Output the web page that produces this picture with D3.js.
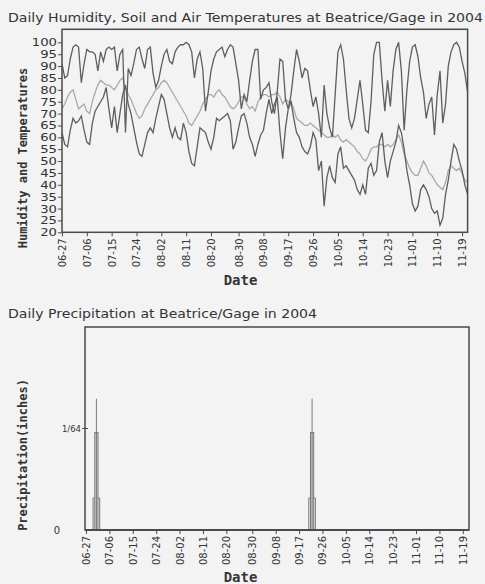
<!DOCTYPE html>
<html><head><meta charset="utf-8">
<script src="https://cdn.jsdelivr.net/npm/d3@7"></script>
<style>
html,body{margin:0;padding:0;background:#f3f3f3;}
svg{display:block;}
</style></head>
<body>
<svg id="chart" width="485" height="584"></svg>
<script>
// ---------------- DATA ----------------
const startDate = "2004-06-27";
const endDate = "2004-11-21";
const xTickLabels = ["06-27","07-06","07-15","07-24","08-02","08-11","08-20","08-30","09-08","09-17","09-26","10-05","10-14","10-23","11-01","11-10","11-19"];
const yTicksTop = [20,25,30,35,40,45,50,55,60,65,70,75,80,85,90,95,100];

const humidity = [91,85,86,93,98,99,98,83,91,97,
96,96,95,88,96,92,97,98,97,98,
88,95,97,62,89,86,91,97,98,93,
89,97,98,87,81,84,90,95,97,92,
91,96,98,99,99,100,99,96,85,93,
96,89,71,79,88,93,96,97,98,94,
97,99,98,91,84,72,78,75,84,92,
97,97,76,80,81,83,75,70,79,93,
92,76,72,78,88,97,92,85,89,88,
80,73,77,70,60,82,70,64,60,78,
96,99,93,80,68,64,68,76,84,74,
63,62,75,95,100,100,84,71,84,73,
88,97,100,88,63,80,92,98,99,94,
85,79,68,74,77,61,78,88,66,74,
90,96,99,100,98,92,87,79];

const soilTemp = [72,74,77,79,80,76,72,73,74,71,
70,75,79,82,84,83,82,82,81,80,
82,84,85,81,78,76,73,70,68,69,
72,74,76,78,80,81,83,84,83,81,
79,77,75,73,71,69,66,65,67,69,
71,74,76,78,78,77,79,80,78,77,
75,73,72,73,75,77,77,74,72,73,
71,75,77,78,78,77,78,78,79,77,
74,76,75,75,72,68,67,66,65,65,
66,65,64,63,62,61,60,60,61,60,
61,59,58,59,58,57,56,54,53,51,
50,52,55,56,56,57,57,56,57,56,
57,59,61,58,53,50,47,45,44,44,
47,50,48,45,44,42,40,39,38,41,
46,48,47,46,47,45,42,41];

const airTemp = [62,57,56,63,68,66,67,69,63,58,
57,66,71,73,75,77,81,72,64,73,
62,70,78,82,74,70,64,58,53,52,
57,62,64,62,68,73,78,76,70,64,
60,64,60,59,66,62,54,49,48,56,
64,63,62,58,55,60,68,67,68,69,
70,67,55,58,64,69,70,66,60,57,
52,57,61,63,70,76,70,74,77,62,
51,64,72,75,68,62,60,56,54,53,
56,62,59,46,50,31,43,48,43,41,
53,56,47,48,46,44,42,38,36,40,
36,47,49,44,46,58,62,50,43,50,
54,58,65,62,55,46,40,32,29,31,
38,40,38,35,30,28,29,23,26,36,
42,50,57,55,50,46,40,36];

const precipDates = ["2004-07-01","2004-09-22"];
const precipLow  = [0.0049, 0.0049];
const precipMid  = [0.0150, 0.0150];
const precipPeak = [0.0202, 0.0202];
const precipTicks = [0, 1/64];
const precipTickLabels = ["0","1/64"];

// ---------------- SETUP ----------------
const parse = d3.timeParse("%Y-%m-%d");
const t0 = parse(startDate), t1 = parse(endDate);
const days = humidity.map((_, i) => d3.timeDay.offset(t0, i));
const tickDates = xTickLabels.map(s => parse("2004-" + s));

const svg = d3.select("#chart");
svg.append("rect").attr("width",485).attr("height",584).attr("fill","#f3f3f3");

const textCol = "#333";
const frameCol = "#4a4a4a";
const sansFont = "'DejaVu Sans', Verdana, sans-serif";
const monoFont = "'DejaVu Sans Mono', monospace";

function xAxisLabels(g){
  g.select(".domain").remove();
  g.selectAll(".tick line").attr("stroke", frameCol).attr("stroke-width",1);
  g.selectAll(".tick text")
    .attr("transform","rotate(-90)")
    .attr("text-anchor","end")
    .attr("x",-6).attr("y",0).attr("dy","0.35em")
    .attr("fill",textCol)
    .style("font-family",sansFont).style("font-size","10px");
}

// ---------------- TOP CHART ----------------
const pTop = {l:62, r:467.6, t:29.3, b:232.3};
const xTop = d3.scaleTime().domain([t0, t1]).range([pTop.l, pTop.r]);
const yTop = d3.scaleLinear().domain([20, 105.5]).range([pTop.b, pTop.t]);

svg.append("text").attr("x",8).attr("y",22)
  .attr("textLength",475).attr("lengthAdjust","spacingAndGlyphs")
  .attr("fill",textCol).style("font-family",sansFont).style("font-size","12px")
  .text("Daily Humidity, Soil and Air Temperatures at Beatrice/Gage in 2004");

svg.append("clipPath").attr("id","clipTop").append("rect")
  .attr("x",pTop.l).attr("y",pTop.t).attr("width",pTop.r-pTop.l).attr("height",pTop.b-pTop.t);

const lineTop = d3.line().x((d,i)=>xTop(days[i])).y(d=>yTop(d));
const gLines = svg.append("g").attr("clip-path","url(#clipTop)");
gLines.append("path").datum(soilTemp).attr("d",lineTop)
  .attr("fill","none").attr("stroke","#a9a9a9").attr("stroke-width",1.3);
gLines.append("path").datum(airTemp).attr("d",lineTop)
  .attr("fill","none").attr("stroke","#5e5e5e").attr("stroke-width",1.3);
gLines.append("path").datum(humidity).attr("d",lineTop)
  .attr("fill","none").attr("stroke","#5e5e5e").attr("stroke-width",1.3);

svg.append("rect").attr("x",pTop.l).attr("y",pTop.t)
  .attr("width",pTop.r-pTop.l).attr("height",pTop.b-pTop.t)
  .attr("fill","none").attr("stroke",frameCol).attr("stroke-width",1.5);

const yAxTop = svg.append("g").attr("transform",`translate(${pTop.l},0)`)
  .call(d3.axisLeft(yTop).tickValues(yTicksTop).tickSize(4).tickPadding(1).tickFormat(d=>String(d)));
yAxTop.select(".domain").remove();
yAxTop.selectAll(".tick line").attr("stroke",frameCol);
yAxTop.selectAll(".tick text").attr("fill",textCol)
  .style("font-family",sansFont).style("font-size","11px")
  .attr("textLength",function(d){return String(d).length*8.4;})
  .attr("lengthAdjust","spacingAndGlyphs");

svg.append("g").attr("transform",`translate(0,${pTop.b})`)
  .call(d3.axisBottom(xTop).tickValues(tickDates).tickSize(4).tickFormat((d,i)=>xTickLabels[i]))
  .call(xAxisLabels);

svg.append("text").attr("transform","translate(27,158) rotate(-90)")
  .attr("text-anchor","middle").attr("fill",textCol)
  .style("font-family",monoFont).style("font-weight","bold").style("font-size","12px")
  .text("Humidity and Temperatures");

svg.append("text").attr("x",240.5).attr("y",285).attr("text-anchor","middle")
  .attr("fill",textCol).style("font-family",monoFont).style("font-weight","bold").style("font-size","14px")
  .text("Date");

// ---------------- BOTTOM CHART ----------------
const pBot = {l:85, r:469, t:327, b:530};
const xBot = d3.scaleTime().domain([t0, t1]).range([86, 468]);
const yBot = d3.scaleLinear().domain([0, 1/32]).range([pBot.b, pBot.t]);

svg.append("text").attr("x",8).attr("y",318)
  .attr("textLength",309).attr("lengthAdjust","spacingAndGlyphs")
  .attr("fill",textCol).style("font-family",sansFont).style("font-size","12px")
  .text("Daily Precipitation at Beatrice/Gage in 2004");

svg.append("rect").attr("x",pBot.l).attr("y",pBot.t)
  .attr("width",pBot.r-pBot.l).attr("height",pBot.b-pBot.t)
  .attr("fill","none").attr("stroke",frameCol).attr("stroke-width",1.5);

const pd = precipDates.map(parse);
const gBars = svg.append("g");
pd.forEach((dt,i)=>{
  const cx = xBot(dt);
  gBars.append("rect").attr("x",cx-3.3).attr("y",yBot(precipLow[i]))
    .attr("width",6.6).attr("height",yBot(0)-yBot(precipLow[i]))
    .attr("fill","#f3f3f3").attr("stroke","#777").attr("stroke-width",1);
  gBars.append("rect").attr("x",cx-1.6).attr("y",yBot(precipMid[i]))
    .attr("width",3.2).attr("height",yBot(0)-yBot(precipMid[i]))
    .attr("fill","#d8d8d8").attr("stroke","#777").attr("stroke-width",1);
  gBars.append("line").attr("x1",cx).attr("x2",cx)
    .attr("y1",yBot(precipPeak[i])).attr("y2",yBot(0))
    .attr("stroke","#777").attr("stroke-width",1);
});

svg.append("line").attr("x1",pBot.l).attr("x2",pBot.r).attr("y1",pBot.b).attr("y2",pBot.b)
  .attr("stroke",frameCol).attr("stroke-width",2);

svg.append("text").attr("x",57).attr("y",yBot(precipTicks[0])+4).attr("text-anchor","middle")
  .attr("fill",textCol).style("font-family",sansFont).style("font-size","10px")
  .text(precipTickLabels[0]);
svg.append("text").attr("x",81).attr("y",yBot(precipTicks[1])+3).attr("text-anchor","end")
  .attr("fill",textCol).style("font-family",sansFont).style("font-size","8.5px")
  .text(precipTickLabels[1]);
svg.append("line").attr("x1",82).attr("x2",88)
  .attr("y1",yBot(precipTicks[1])).attr("y2",yBot(precipTicks[1]))
  .attr("stroke",frameCol).attr("stroke-width",1);

svg.append("g").attr("transform",`translate(0,${pBot.b})`)
  .call(d3.axisBottom(xBot).tickValues(tickDates).tickSize(4).tickFormat((d,i)=>xTickLabels[i]))
  .call(xAxisLabels);

svg.append("text").attr("transform","translate(27,455) rotate(-90)")
  .attr("text-anchor","middle").attr("fill",textCol)
  .style("font-family",monoFont).style("font-weight","bold").style("font-size","12px")
  .text("Precipitation(inches)");

svg.append("text").attr("x",240.5).attr("y",582).attr("text-anchor","middle")
  .attr("fill",textCol).style("font-family",monoFont).style("font-weight","bold").style("font-size","14px")
  .text("Date");
</script>
</body></html>
